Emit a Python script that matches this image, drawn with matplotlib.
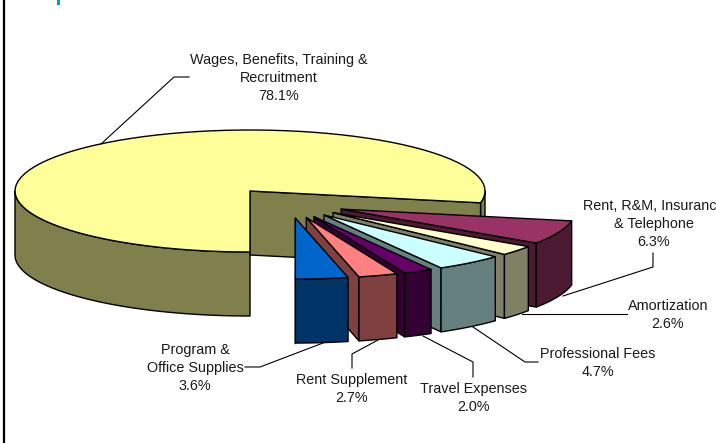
import numpy as np
import matplotlib
matplotlib.use("Agg")
import matplotlib.pyplot as plt
from matplotlib.patches import Polygon

plt.rcParams["font.family"] = ["Liberation Sans", "DejaVu Sans"]

# Datos del grafico (clockwise from the bottom of the pie)
categorias = ["Wages, Benefits, Training &\nRecruitment", "Rent, R&M, Insurance\n& Telephone", "Amortization",
              "Professional Fees", "Travel Expenses", "Rent Supplement", "Program &\nOffice Supplies"]
valores = [78.1, 6.3, 2.6, 4.7, 2.0, 2.7, 3.6]
colores_top = ["#FFFF99", "#993366", "#FFFFCC", "#CCFFFF", "#660066", "#FF8080", "#0066CC"]
colores_lado = ["#80804D", "#4D1A33", "#808066", "#668080", "#330033", "#804040", "#003366"]

# Geometria en pixeles
cx, cy = 250, 191
a, b = 235, 61
prof = 64
explosion = 0.24
desp_x, desp_y = 39, 12.5

pos_etiquetas = [(279, 78), (654, 224), (668, 315), (598, 363), (473, 398), (352, 389), (195, 368)]
lideres = [
    [(101, 144), (174, 77), (189, 77)],
    [(563, 296), (653, 267), (653, 253)],
    [(522, 314), (627, 314)],
    [(473, 327), (525, 362), (538, 362)],
    [(423, 336), (473, 362), (473, 377)],
    [(378, 340), (352, 354), (352, 368)],
    [(323, 343), (260, 367), (245, 367)],
]

fig = plt.figure(figsize=(7.16, 4.43), dpi=100)
ax = fig.add_axes([0, 0, 1, 1])
ax.set_xlim(0, 716)
ax.set_ylim(443, 0)
ax.axis("off")


def arco(x0, y0, t1, t2):
    t = np.radians(np.linspace(t1, t2, 80))
    return np.column_stack([x0 + a * np.cos(t), y0 - b * np.sin(t)])


def poligono(puntos, color):
    ax.add_patch(Polygon(puntos, closed=True, facecolor=color, edgecolor="black", linewidth=1.0, joinstyle="round"))


def pared_arco(x0, y0, t1, t2, color):
    arriba = arco(x0, y0, t1, t2)
    abajo = arriba[::-1] + [0, prof]
    poligono(np.vstack([arriba, abajo]), color)


# Angulos de cada porcion a partir de los valores
angulos = np.cumsum([0] + [v * 3.6 for v in valores])
inicio = 270 - angulos[:-1]
fin = 270 - angulos[1:]

# Porcion principal
t_fin = fin[0]
pared_arco(cx, cy, 180, 270, colores_lado[0])
pared_arco(cx, cy, t_fin, 0, colores_lado[0])
borde = arco(cx, cy, t_fin, t_fin)[0]
poligono([(cx, cy), borde, borde + [0, prof], (cx, cy + prof)], colores_lado[0])
poligono(np.vstack([[(cx, cy)], arco(cx, cy, t_fin, 270)]), colores_top[0])

# Porciones separadas, de atras hacia adelante
for i in range(1, len(valores)):
    t1, t2 = fin[i], inicio[i]
    medio = np.radians((t1 + t2) / 2)
    x0 = cx + desp_x + explosion * a * np.cos(medio)
    y0 = cy + desp_y - explosion * b * np.sin(medio)
    esquina = arco(x0, y0, t1, t1)[0]
    poligono([(x0, y0), esquina, esquina + [0, prof], (x0, y0 + prof)], colores_lado[i])
    pared_arco(x0, y0, t1, t2, colores_lado[i])
    poligono(np.vstack([[(x0, y0)], arco(x0, y0, t1, t2)]), colores_top[i])

# Lineas guia y etiquetas
for linea in lideres:
    xs, ys = zip(*linea)
    ax.plot(xs, ys, color="black", linewidth=0.8)

for nombre, valor, (x, y) in zip(categorias, valores, pos_etiquetas):
    ax.text(x, y, f"{nombre}\n{valor:.1f}%", ha="center", va="center", fontsize=10.4,
            linespacing=1.4, color="#1a1a1a")

# Restos del marco
ax.plot([4, 4], [0, 443], color="black", linewidth=1.6)
ax.plot([58, 58], [0, 3], color="#00A0A0", linewidth=2.2)

fig.savefig("out.png", dpi=100)
